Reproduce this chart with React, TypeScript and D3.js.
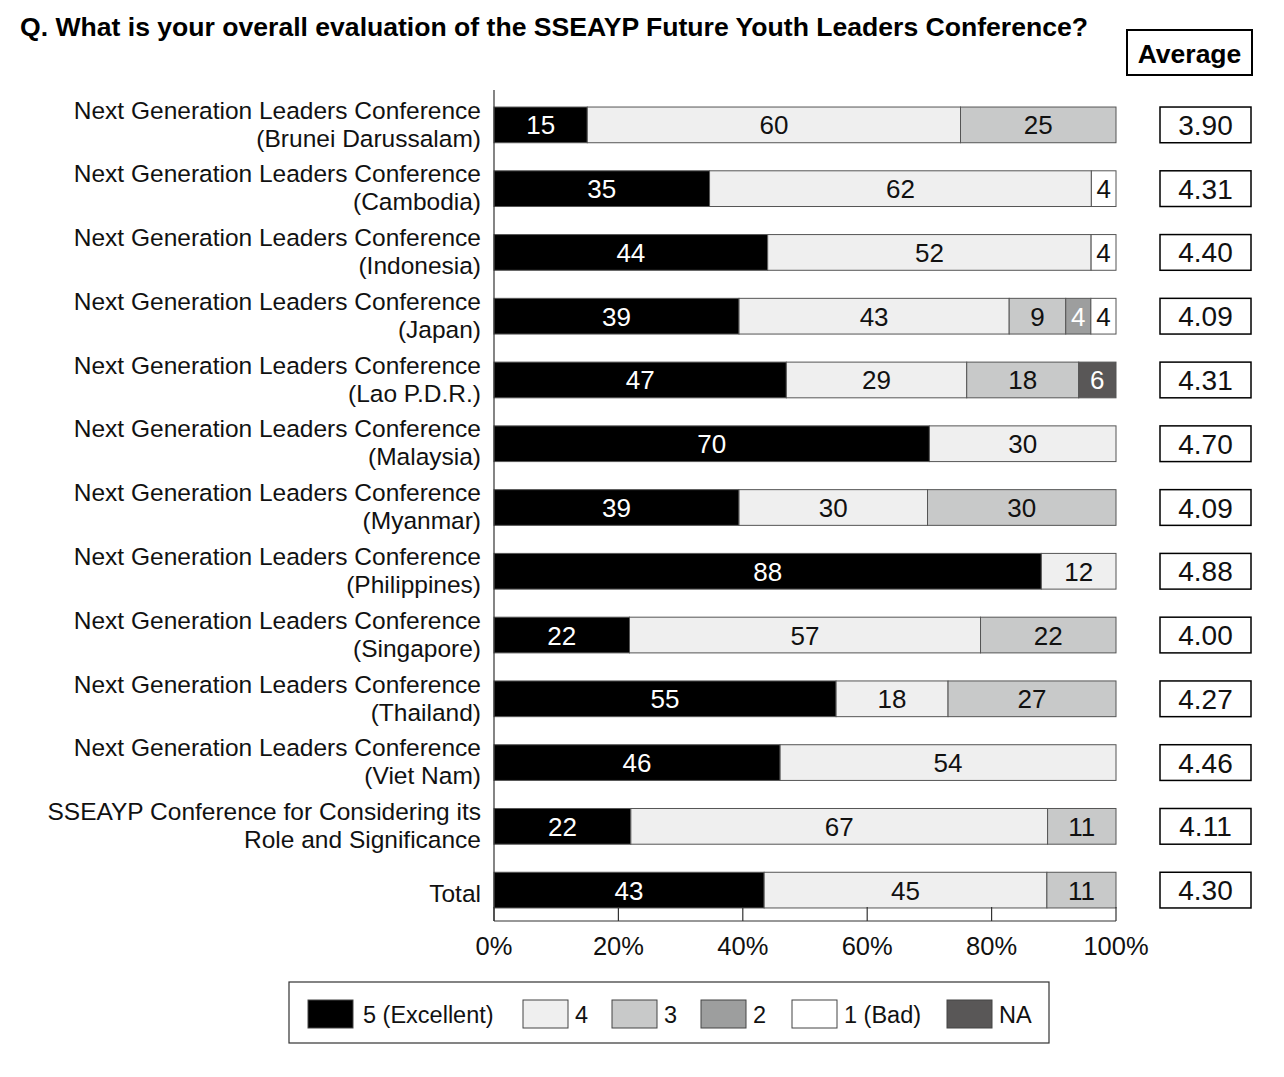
import React from "react";
import * as d3 from "d3";

const TITLE = "Q. What is your overall evaluation of the SSEAYP Future Youth Leaders Conference?";

const categories = [
  "Next Generation Leaders Conference\n(Brunei Darussalam)",
  "Next Generation Leaders Conference\n(Cambodia)",
  "Next Generation Leaders Conference\n(Indonesia)",
  "Next Generation Leaders Conference\n(Japan)",
  "Next Generation Leaders Conference\n(Lao P.D.R.)",
  "Next Generation Leaders Conference\n(Malaysia)",
  "Next Generation Leaders Conference\n(Myanmar)",
  "Next Generation Leaders Conference\n(Philippines)",
  "Next Generation Leaders Conference\n(Singapore)",
  "Next Generation Leaders Conference\n(Thailand)",
  "Next Generation Leaders Conference\n(Viet Nam)",
  "SSEAYP Conference for Considering its\nRole and Significance",
  "Total",
];

const excellent5 = [15, 35, 44, 39, 47, 70, 39, 88, 22, 55, 46, 22, 43];
const good4 = [60, 62, 52, 43, 29, 30, 30, 12, 57, 18, 54, 67, 45];
const fair3 = [25, 0, 0, 9, 18, 0, 30, 0, 22, 27, 0, 11, 11];
const poor2 = [0, 0, 0, 4, 0, 0, 0, 0, 0, 0, 0, 0, 0];
const bad1 = [0, 4, 4, 4, 0, 0, 0, 0, 0, 0, 0, 0, 0];
const notAnswered = [0, 0, 0, 0, 6, 0, 0, 0, 0, 0, 0, 0, 0];
const averages = ["3.90", "4.31", "4.40", "4.09", "4.31", "4.70", "4.09", "4.88", "4.00", "4.27", "4.46", "4.11", "4.30"];

const seriesKeys = ["s5", "s4", "s3", "s2", "s1", "na"];
const seriesLabels = ["5 (Excellent)", "4", "3", "2", "1 (Bad)", "NA"];
const seriesValues = [excellent5, good4, fair3, poor2, bad1, notAnswered];
const ticks = [0, 0.2, 0.4, 0.6, 0.8, 1];

const fills = ["#000000", "#efefef", "#c8c9c9", "#9d9e9e", "#ffffff", "#595757"];
const textFills = ["#ffffff", "#111111", "#111111", "#ffffff", "#111111", "#ffffff"];

const FONT = "'Liberation Sans', Arial, Helvetica, sans-serif";

export default function App() {
  const W = 1284, H = 1077;
  const x0 = 494, x1 = 1116, yTop = 90, yBot = 921;

  const rows = categories.map((c, i) => {
    const r: any = { cat: c };
    seriesKeys.forEach((k, j) => (r[k] = seriesValues[j][i]));
    return r;
  });

  const stack = d3.stack<any>().keys(seriesKeys).offset(d3.stackOffsetExpand);
  const stacked = stack(rows);

  const x = d3.scaleLinear().domain([0, 1]).range([x0, x1]);
  const y = d3.scaleBand<string>().domain(categories).range([93, 922]).paddingInner(0.44).paddingOuter(0.22);
  const bh = y.bandwidth();

  const legendX = [308, 523, 612, 701, 792, 947];

  return (
    <svg width={W} height={H} style={{ position: "absolute", left: 0, top: 0, background: "#fff" }} fontFamily={FONT}>
      <rect x={0} y={0} width={W} height={H} fill="#fff" />
      <text x={20} y={36} fontSize={26.5} fontWeight="bold" fill="#000" textLength={1068} lengthAdjust="spacingAndGlyphs">{TITLE}</text>

      {/* Average header */}
      <rect x={1127} y={30} width={125} height={45} fill="#fff" stroke="#000" strokeWidth={2} />
      <text x={1189.5} y={62.5} fontSize={26.5} fontWeight="bold" textAnchor="middle">Average</text>

      {/* bars */}
      {stacked.map((s, j) => (
        <g key={s.key}>
          {s.map((d, i) => {
            const v = seriesValues[j][i];
            if (!v) return null;
            const cy = (y(categories[i]) as number);
            const xa = x(d[0]), xb = x(d[1]);
            return (
              <g key={i}>
                <rect x={xa} y={cy} width={xb - xa} height={bh} fill={fills[j]} stroke="#555" strokeWidth={1} />
                <text x={(xa + xb) / 2} y={cy + bh / 2 + 9.5} fontSize={26} textAnchor="middle" fill={textFills[j]}>{v}</text>
              </g>
            );
          })}
        </g>
      ))}

      {/* category labels */}
      {categories.map((c, i) => {
        const lines = c.split("\n");
        const cy = (y(c) as number) + bh / 2;
        return (
          <text key={i} x={481} fontSize={24.5} textAnchor="end" fill="#111">
            {lines.map((l, k) => (
              <tspan key={k} x={481} y={cy + 8.7 + (lines.length === 1 ? 3 : (k === 0 ? -15 : 13))}>{l}</tspan>
            ))}
          </text>
        );
      })}

      {/* averages */}
      {categories.map((c, i) => {
        const cy = y(c) as number;
        return (
          <g key={i}>
            <rect x={1160} y={cy} width={91} height={bh} fill="#fff" stroke="#000" strokeWidth={1.5} />
            <text x={1205.5} y={cy + bh / 2 + 10} fontSize={28} textAnchor="middle" fill="#111">{averages[i]}</text>
          </g>
        );
      })}

      {/* axes */}
      <line x1={x0} x2={x0} y1={yTop} y2={yBot} stroke="#333" strokeWidth={1.2} />
      <line x1={x0} x2={x1} y1={yBot} y2={yBot} stroke="#333" strokeWidth={1.2} />
      {ticks.map((t) => (
        <g key={t}>
          <line x1={x(t)} x2={x(t)} y1={yBot} y2={yBot - 14} stroke="#333" strokeWidth={1.2} />
          <text x={x(t)} y={955} fontSize={25.5} textAnchor="middle" fill="#111">{d3.format(".0%")(t)}</text>
        </g>
      ))}

      {/* legend */}
      <rect x={289} y={982} width={760} height={61} fill="#fff" stroke="#333" strokeWidth={1.2} />
      {seriesLabels.map((l, j) => (
        <g key={l}>
          <rect x={legendX[j]} y={1000} width={45} height={28} fill={fills[j]} stroke="#444" strokeWidth={1} />
          <text x={legendX[j] + 52 + (j === 0 ? 3 : 0)} y={1022.5} fontSize={23.5} fill="#111">{l}</text>
        </g>
      ))}
    </svg>
  );
}
